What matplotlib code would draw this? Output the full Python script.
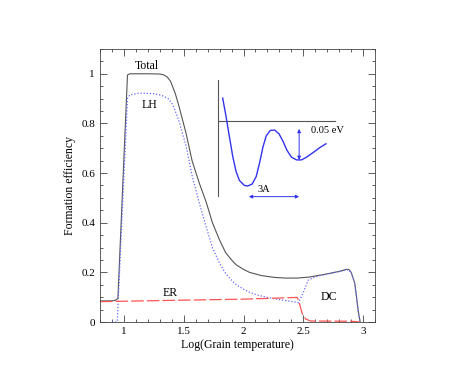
import matplotlib
matplotlib.use("Agg")
import matplotlib.pyplot as plt
from matplotlib.ticker import MultipleLocator, FormatStrFormatter

plt.rcParams['font.family'] = ['Liberation Serif', 'DejaVu Serif']

# total efficiency
total_x = [0.80, 0.90, 0.93, 0.95, 1.03, 1.05, 1.20, 1.30, 1.33, 1.36, 1.39, 1.43,
           1.46, 1.52, 1.57, 1.63, 1.69, 1.74, 1.80, 1.85, 1.90, 1.94, 2.00, 2.05,
           2.15, 2.25, 2.35, 2.45, 2.55, 2.69, 2.80, 2.86, 2.88, 2.90, 2.93, 2.95,
           2.96, 2.975]
total_y = [0.085, 0.085, 0.088, 0.095, 0.995, 1.0, 1.0, 0.999, 0.996, 0.988, 0.97, 0.92,
           0.87, 0.76, 0.65, 0.56, 0.48, 0.40, 0.33, 0.28, 0.25, 0.23, 0.212, 0.20,
           0.187, 0.18, 0.177, 0.177, 0.181, 0.193, 0.204, 0.212, 0.212, 0.20, 0.157,
           0.08, 0.04, 0.0]

# Langmuir-Hinshelwood
lh_x = [0.90, 0.94, 0.945, 1.03, 1.05, 1.13, 1.25, 1.32, 1.37, 1.41, 1.46, 1.52,
        1.57, 1.63, 1.69, 1.74, 1.80, 1.85, 1.90, 1.94, 2.00, 2.05, 2.12, 2.19,
        2.30, 2.41, 2.46, 2.50, 2.54, 2.60, 2.69, 2.80, 2.86, 2.88, 2.90, 2.93,
        2.95, 2.96, 2.975]
lh_y = [0.0, 0.0, 0.005, 0.90, 0.915, 0.922, 0.92, 0.912, 0.90, 0.875, 0.81, 0.71,
        0.59, 0.48, 0.38, 0.30, 0.237, 0.196, 0.168, 0.15, 0.132, 0.12, 0.108, 0.10,
        0.09, 0.082, 0.078, 0.12, 0.168, 0.182, 0.192, 0.203, 0.21, 0.21, 0.198,
        0.155, 0.08, 0.04, 0.0]

# Eley-Rideal
er_x = [0.80, 1.50, 2.00, 2.45, 2.47, 2.49, 2.52, 2.56, 2.90, 2.975]
er_y = [0.082, 0.088, 0.092, 0.099, 0.07, 0.035, 0.012, 0.004, 0.003, 0.0]

# inset potential sketch
pot_x = [1.826, 1.854, 1.882, 1.910, 1.938, 1.966, 2.008, 2.036, 2.073, 2.106, 2.134,
         2.162, 2.190, 2.224, 2.261, 2.297, 2.331, 2.364, 2.401, 2.443, 2.485, 2.527,
         2.583, 2.639, 2.689]
pot_y = [0.902, 0.828, 0.747, 0.667, 0.606, 0.570, 0.550, 0.548, 0.556, 0.586, 0.640,
         0.704, 0.750, 0.772, 0.773, 0.758, 0.727, 0.691, 0.664, 0.653, 0.653, 0.664,
         0.683, 0.703, 0.718]

fig = plt.figure(figsize=(4.76, 3.68), dpi=100)
ax = fig.add_axes([0.21, 0.125, 0.578, 0.742])

ax.plot(total_x, total_y, color='#555555', lw=0.8)
ax.plot(lh_x, lh_y, color='#6666ff', lw=0.9, linestyle=(0, (1, 1.5)))
ax.plot(er_x, er_y, color='#ff5555', lw=0.9, linestyle=(0, (10, 2.5)))

ax.text(1.19, 1.03, 'Total', fontsize=8.5, ha='center', va='center')
ax.text(1.21, 0.875, 'LH', fontsize=8.5, ha='center', va='center')
ax.text(1.39, 0.117, 'ER', fontsize=8.5, ha='center', va='center')
ax.text(2.71, 0.10, 'DC', fontsize=8.5, ha='center', va='center')

# inset
ax.plot([1.784, 1.784], [0.508, 0.973], color='#555555', lw=0.8)
ax.plot([1.784, 2.765], [0.81, 0.81], color='#555555', lw=0.8)
ax.plot(pot_x, pot_y, color='#3333ee', lw=1.0)
ax.annotate('', xy=(2.045, 0.505), xytext=(2.465, 0.505),
            arrowprops=dict(arrowstyle='<|-|>', color='#3333ee', lw=0.7,
                            mutation_scale=5, shrinkA=0, shrinkB=0))
ax.annotate('', xy=(2.465, 0.778), xytext=(2.465, 0.653),
            arrowprops=dict(arrowstyle='<|-|>', color='#3333ee', lw=0.7,
                            mutation_scale=5, shrinkA=0, shrinkB=0))
ax.text(2.17, 0.535, '3A', fontsize=7.5, ha='center', va='center')
ax.text(2.70, 0.77, '0.05 eV', fontsize=7.5, ha='center', va='center')

ax.set_xlim(0.8, 3.1)
ax.set_ylim(0, 1.1)
ax.xaxis.set_major_locator(MultipleLocator(0.5))
ax.xaxis.set_minor_locator(MultipleLocator(0.1))
ax.yaxis.set_major_locator(MultipleLocator(0.2))
ax.yaxis.set_minor_locator(MultipleLocator(0.05))
ax.xaxis.set_major_formatter(FormatStrFormatter('%g'))
ax.yaxis.set_major_formatter(FormatStrFormatter('%g'))
ax.tick_params(which='both', direction='in', top=True, right=True, labelsize=8,
               width=0.6, color='#444444')
ax.tick_params(which='major', length=5)
ax.tick_params(which='minor', length=2.5)
for s in ax.spines.values():
    s.set_linewidth(0.6)
    s.set_color('#444444')

ax.set_xlabel('Log(Grain temperature)', fontsize=8.5, labelpad=2)
ax.set_ylabel('Formation efficiency', fontsize=8.5, labelpad=4)

fig.savefig('out.png', dpi=100)
